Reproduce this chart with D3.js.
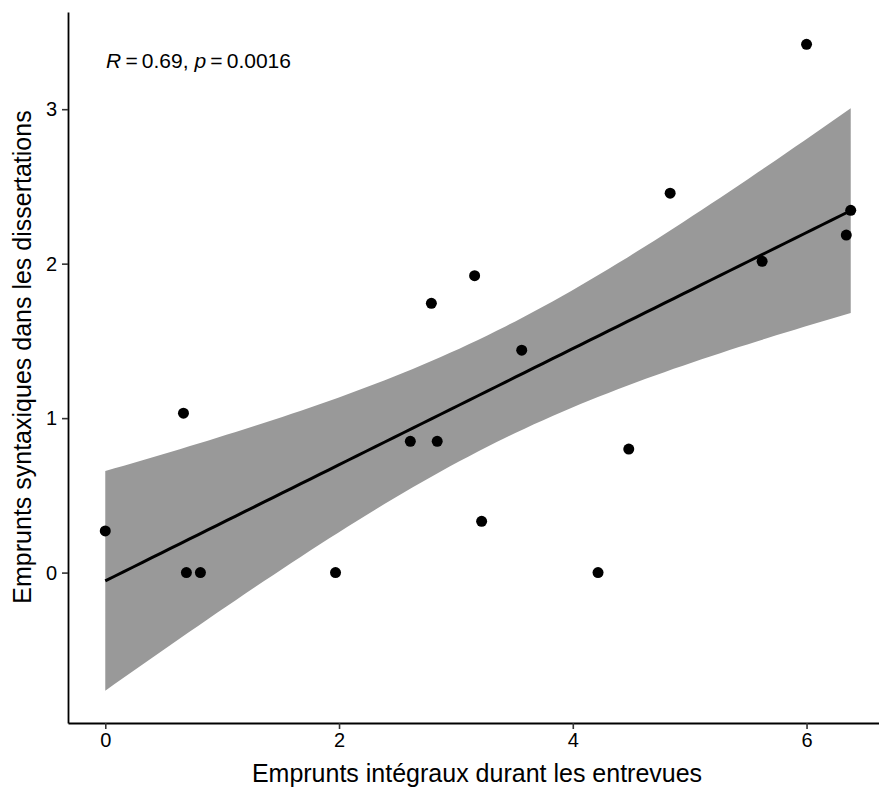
<!DOCTYPE html>
<html>
<head>
<meta charset="utf-8">
<script src="https://cdn.jsdelivr.net/npm/d3@7"></script>
<style>
  body { margin: 0; background: #fff; }
  text { font-family: "Liberation Sans", Arial, sans-serif; }
</style>
</head>
<body>
<script>
// valeurs
const empruntsIntegraux = [0, 0.669, 0.694, 0.814, 1.97, 2.61, 2.84, 2.79, 3.16, 3.22, 3.563, 4.216, 4.479, 4.833, 5.62, 6.0, 6.34, 6.378];
const empruntsSyntaxiques = [0.27, 1.032, 0, 0, 0, 0.85, 0.85, 1.743, 1.922, 0.332, 1.44, 0, 0.80, 2.456, 2.015, 3.42, 2.185, 2.345];
const xTicks = [0, 2, 4, 6];
const yTicks = [0, 1, 2, 3];
const xTitle = 'Emprunts intégraux durant les entrevues';
const yTitle = 'Emprunts syntaxiques dans les dissertations';
const corLabel = { R: '0.69', p: '0.0016' };

const width = 879;
const height = 790;
const margin = { top: 12, right: -9, bottom: 67, left: 68 };

const points = empruntsIntegraux.map((x, i) => ({ x, y: empruntsSyntaxiques[i] }));

// régression linéaire + intervalle de confiance 95 %
const n = points.length;
const mx = d3.mean(points, d => d.x);
const my = d3.mean(points, d => d.y);
const sxx = d3.sum(points, d => (d.x - mx) ** 2);
const sxy = d3.sum(points, d => (d.x - mx) * (d.y - my));
const slope = sxy / sxx;
const intercept = my - slope * mx;
const s = Math.sqrt(d3.sum(points, d => (d.y - intercept - slope * d.x) ** 2) / (n - 2));
const tCrit = 2.1199; // t(0.975, df = 16)

const [xMin, xMax] = d3.extent(points, d => d.x);
const band = d3.range(0, 81).map(i => {
  const x = xMin + (xMax - xMin) * i / 80;
  const fit = intercept + slope * x;
  const se = s * Math.sqrt(1 / n + (x - mx) ** 2 / sxx);
  return { x, fit, lo: fit - tCrit * se, hi: fit + tCrit * se };
});

// domaines élargis de 5 % comme ggplot
const yLo = Math.min(d3.min(points, d => d.y), d3.min(band, d => d.lo));
const yHi = Math.max(d3.max(points, d => d.y), d3.max(band, d => d.hi));
const xPad = (xMax - xMin) * 0.05;
const yPad = (yHi - yLo) * 0.05;

const x = d3.scaleLinear()
  .domain([xMin - xPad, xMax + xPad])
  .range([margin.left, width - margin.right]);
const y = d3.scaleLinear()
  .domain([yLo - yPad, yHi + yPad])
  .range([height - margin.bottom, margin.top]);

const svg = d3.select('body').append('svg')
  .attr('width', width)
  .attr('height', height);

svg.append('path')
  .datum(band)
  .attr('fill', '#999999')
  .attr('d', d3.area().x(d => x(d.x)).y0(d => y(d.lo)).y1(d => y(d.hi)));

svg.append('path')
  .datum(band)
  .attr('fill', 'none')
  .attr('stroke', '#000')
  .attr('stroke-width', 3)
  .attr('d', d3.line().x(d => x(d.x)).y(d => y(d.fit)));

svg.append('g')
  .selectAll('circle')
  .data(points)
  .enter().append('circle')
  .attr('cx', d => x(d.x))
  .attr('cy', d => y(d.y))
  .attr('r', 5.5)
  .attr('fill', '#000');

// axes
const xAxis = svg.append('g')
  .attr('transform', `translate(0,${height - margin.bottom})`)
  .call(d3.axisBottom(x).tickValues(xTicks).tickSizeInner(6).tickSizeOuter(0).tickPadding(4).tickFormat(d3.format('d')));
const yAxis = svg.append('g')
  .attr('transform', `translate(${margin.left},0)`)
  .call(d3.axisLeft(y).tickValues(yTicks).tickSizeInner(6).tickSizeOuter(0).tickPadding(5).tickFormat(d3.format('d')));

[xAxis, yAxis].forEach(g => {
  g.select('.domain').attr('stroke', '#000').attr('stroke-width', 1.8);
  g.selectAll('.tick line').attr('stroke', '#333').attr('stroke-width', 1.6);
  g.selectAll('.tick text').attr('fill', '#000').style('font-size', '20px');
});

svg.append('text')
  .attr('x', 477)
  .attr('y', 782)
  .attr('text-anchor', 'middle')
  .style('font-size', '25px')
  .text(xTitle);

svg.append('text')
  .attr('transform', `translate(31,357) rotate(-90)`)
  .attr('text-anchor', 'middle')
  .style('font-size', '25px')
  .text(yTitle);

// annotation R / p
const ann = svg.append('text')
  .attr('x', 106)
  .attr('y', 68)
  .style('font-size', '21px');
ann.append('tspan').style('font-style', 'italic').text('R');
ann.append('tspan').text(`\u2009=\u2009${corLabel.R}, `);
ann.append('tspan').style('font-style', 'italic').text('p');
ann.append('tspan').text(`\u2009=\u2009${corLabel.p}`);
</script>
</body>
</html>
